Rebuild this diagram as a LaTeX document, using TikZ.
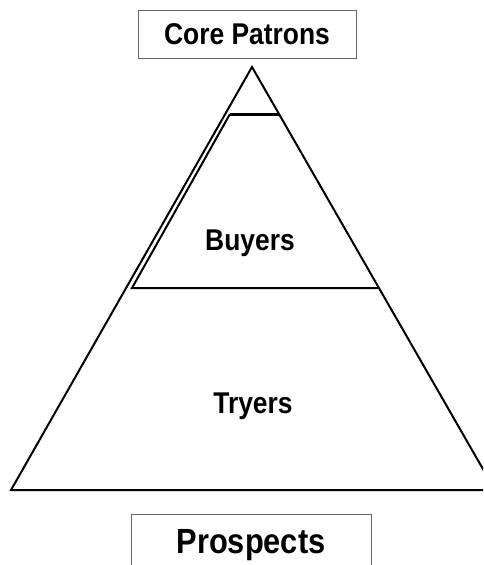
\documentclass[tikz,border=0pt]{standalone}
\usepackage{fontspec}
\newfontfamily\labelfont{Liberation Sans}[FakeStretch=0.88]
\begin{document}
\begin{tikzpicture}[x=1pt,y=-1pt,
  tier/.style={line width=2pt,line join=miter},
  cut/.style={line width=3pt},
  labelbox/.style={draw=black!60,line width=1pt,fill=white,inner sep=0pt},
  tierlabel/.style={font=\labelfont\bfseries\fontsize{30}{36}\selectfont}]
\useasboundingbox (0,0) rectangle (483,565);
\clip (0,0) rectangle (483,565);
% pyramid corners
\coordinate (apex) at (252,67);
\coordinate (baseL) at (11,490);
\coordinate (baseR) at (495,490);
% buyers band
\coordinate (bTL) at (230,114);
\coordinate (bTR) at (279,114);
\coordinate (bBL) at (132,288);
\coordinate (bBR) at (378,288);
% outer pyramid
\draw[tier] (apex) -- (baseL) -- (baseR) -- cycle;
% buyers band outline
\draw[tier] (bTL) -- (bBL) -- (bBR);
\draw[cut] (bTL) -- (bTR);
% tier labels
\node[tierlabel] (buyers) at (250,243) {Buyers};
\node[tierlabel] (tryers) at (253,406) {Tryers};
% top and bottom boxes
\node[labelbox,minimum width=218pt,minimum height=48pt,tierlabel] (core) at (247,34) {Core Patrons};
\node[labelbox,minimum width=240pt,minimum height=62pt,anchor=north,font=\labelfont\bfseries\fontsize{35}{42}\selectfont] (prospects) at (251,514) {\raisebox{-4pt}{Prospects}};
\end{tikzpicture}
\end{document}
